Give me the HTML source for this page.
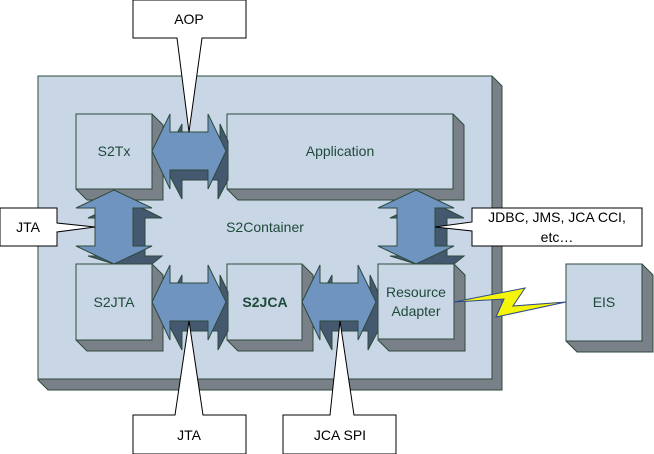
<!DOCTYPE html>
<html><head><style>html,body{margin:0;padding:0;background:#fff;}svg{display:block}</style></head>
<body>
<svg width="654" height="454" viewBox="0 0 654 454" xmlns="http://www.w3.org/2000/svg" font-family="Liberation Sans, sans-serif">
<defs>
<g id="ha">
 <polygon points="162,161 182,124 182,142 220,142 220,124 228,141 228,180 218,199 218,180 182,180 182,199" fill="#44586f" stroke="#2d4a3d"/>
 <polygon points="152,151 170,114 170,132 208,132 208,114 226,151 208,189 208,170 170,170 170,189" fill="#7094c0" stroke="#2d4a3d"/>
</g>
<g id="va">
 <polygon points="126,200 162,218 145,218 145,256 162,256 152,264 114,264 88,256 107,256 107,218 88,218" fill="#44586f" stroke="#2d4a3d"/>
 <polygon points="114,190 152,208 133,208 133,246 152,246 114,264 76,246 95,246 95,208 76,208" fill="#7094c0" stroke="#2d4a3d"/>
</g>
</defs>
<polygon points="38,76 492,76 502,86 502,390 48,390 38,380" fill="#7a8088" stroke="#2d4a3d"/>
<rect x="38" y="76" width="454" height="303" fill="#c8d6e5" stroke="#2d4a3d"/>
<g stroke="#2d4a3d" stroke-width="1">
<polygon points="76,114 152,114 163,125 163,200 87,200 76,189" fill="#7a8088"/>
<rect x="76" y="114" width="76" height="75" fill="#c8d6e5"/>
<polygon points="227,114 453,114 464,125 464,200 238,200 227,189" fill="#7a8088"/>
<rect x="227" y="114" width="226" height="75" fill="#c8d6e5"/>
<polygon points="76,264 152,264 163,275 163,351 87,351 76,340" fill="#7a8088"/>
<rect x="76" y="264" width="76" height="76" fill="#c8d6e5"/>
<polygon points="227,264 302,264 313,275 313,351 238,351 227,340" fill="#7a8088"/>
<rect x="227" y="264" width="75" height="76" fill="#c8d6e5"/>
<polygon points="378,264 454,264 465,275 465,351 389,351 378,340" fill="#7a8088"/>
<rect x="378" y="264" width="76" height="75" fill="#c8d6e5"/>
<polygon points="566,264 642,264 653,275 653,352 577,352 566,341" fill="#7a8088"/>
<rect x="566" y="264" width="76" height="77" fill="#c8d6e5"/>
</g>
<use href="#ha"/>
<use href="#ha" transform="translate(0,151)"/>
<use href="#ha" transform="translate(150,151)"/>
<use href="#va"/>
<use href="#va" transform="translate(302,0)"/>
<polygon points="454,302 525,288 513,306 566,302 496,317 504,299" fill="#f5f50a" stroke="#2d4a8a" stroke-width="1"/>
<g fill="#fff" stroke="#000" stroke-width="1">
<polygon points="133,0 246,0 246,38 202,38 189,132 177,38 133,38"/>
<polygon points="0,208 57,208 57,223 95,227 57,232 57,246 0,246"/>
<polygon points="472,208 642,208 642,246 472,246 472,231 435,227 472,222"/>
<polygon points="133,415 175,415 189,321 203,415 246,415 246,454 133,454"/>
<polygon points="283,415 330,415 340,321 354,415 396,415 396,454 283,454"/>
</g>
<g fill="#1f4a3a" font-size="14" text-anchor="middle">
<text x="114" y="156">S2Tx</text>
<text x="340" y="156">Application</text>
<text x="265" y="232">S2Container</text>
<text x="114" y="307">S2JTA</text>
<text x="265" y="307" font-weight="bold">S2JCA</text>
<text x="416" y="297">Resource</text>
<text x="416" y="316">Adapter</text>
<text x="604" y="307">EIS</text>
</g>
<g fill="#000" font-size="14" text-anchor="middle">
<text x="189" y="24">AOP</text>
<text x="28" y="232">JTA</text>
<text x="557" y="222">JDBC, JMS, JCA CCI,</text>
<text x="557" y="242">etc…</text>
<text x="189" y="440">JTA</text>
<text x="340" y="440">JCA SPI</text>
</g>
</svg>
</body></html>
